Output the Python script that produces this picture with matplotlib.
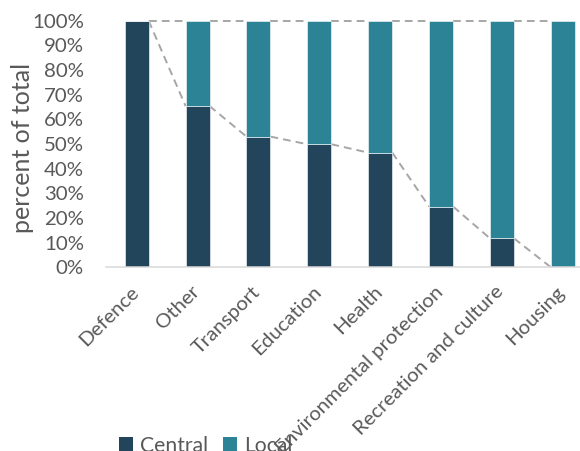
import matplotlib
matplotlib.use("Agg")
import matplotlib.pyplot as plt
import matplotlib.transforms as mtransforms
from matplotlib.patches import Patch
import numpy as np

# Share of spending by level of government
categories = ["Defence", "Other", "Transport", "Education", "Health",
              "Environmental protection", "Recreation and culture", "Housing"]
central = [100.0, 65.4, 53.0, 49.9, 46.5, 24.6, 11.7, 0.0]
local = [100.0 - c for c in central]
y_ticks = [0, 10, 20, 30, 40, 50, 60, 70, 80, 90, 100]
y_tick_labels = [f"{t}%" for t in y_ticks]

CENTRAL_COLOR = "#22455B"
LOCAL_COLOR = "#2D8396"
TEXT_COLOR = "#595959"
SERIES_LINE = "#A6A6A6"

plt.rcParams["font.family"] = ["Lato", "DejaVu Sans"]

W, H = 580, 451
fig = plt.figure(figsize=(W / 100, H / 100), dpi=100)

# plot area in pixels (extends a little past the right edge of the canvas)
left_px, right_px, top_px, bot_px = 106.2, 593.4, 20.7, 267.3
ax = fig.add_axes([left_px / W, 1 - bot_px / H,
                   (right_px - left_px) / W, (bot_px - top_px) / H])

x = np.arange(len(categories))
width = 0.394
ax.bar(x, central, width, color=CENTRAL_COLOR, edgecolor="#FFFFFF",
       linewidth=0.4, label="Central", zorder=2)
ax.bar(x, local, width, bottom=central, color=LOCAL_COLOR, edgecolor="#FFFFFF",
       linewidth=0.4, label="Local", zorder=2)

# series lines joining the tops of each segment between neighbouring bars
tops = [c + l for c, l in zip(central, local)]
for i in range(len(x) - 1):
    x0, x1 = x[i] + width / 2, x[i + 1] - width / 2
    for series in (central, tops):
        ax.plot([x0, x1], [series[i], series[i + 1]], color=SERIES_LINE,
                lw=1.4, linestyle=(0, (4, 2.6)), clip_on=False, zorder=1)

ax.set_xlim(-0.5, 7.5)
ax.set_ylim(0, 100)

ax.set_yticks(y_ticks, y_tick_labels)
ax.tick_params(axis="y", length=0, pad=16, labelsize=14.7, labelcolor=TEXT_COLOR)
ax.set_xticks(x, categories, rotation=45, ha="right", va="top",
              rotation_mode="anchor")
ax.tick_params(axis="x", length=0, pad=12, labelsize=14.7, labelcolor=TEXT_COLOR)
# nudge the slanted category names so their ends sit under the bar centres
shift = mtransforms.ScaledTranslation(-7 / 100, 1 / 100, fig.dpi_scale_trans)
for lbl in ax.get_xticklabels():
    lbl.set_transform(lbl.get_transform() + shift)

for side in ("left", "right", "top"):
    ax.spines[side].set_visible(False)
ax.spines["bottom"].set_color("#D9D9D9")
ax.spines["bottom"].set_linewidth(1.1)

ax.set_ylabel("percent of total", fontsize=18, color=TEXT_COLOR)
ax.yaxis.set_label_coords((34 - left_px) / (right_px - left_px), 0.485)

handles = [Patch(facecolor=CENTRAL_COLOR, label="Central"),
           Patch(facecolor=LOCAL_COLOR, label="Local")]
fig.legend(handles=handles, loc="upper left",
           bbox_to_anchor=(119 / W, 1 - 436 / H), ncol=2, frameon=False,
           fontsize=15.2, labelcolor=TEXT_COLOR, handlelength=0.66,
           handleheight=0.66, handletextpad=0.33, columnspacing=0.72,
           borderpad=0, borderaxespad=0)

fig.savefig("out.png", dpi=100)
